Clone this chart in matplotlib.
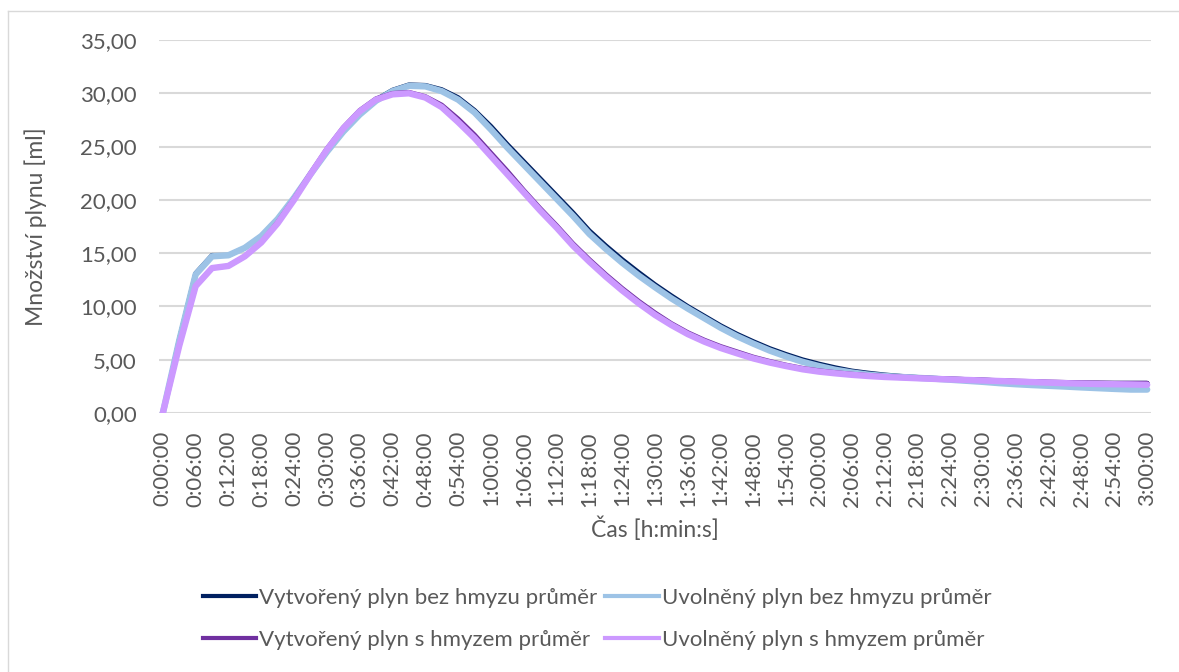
import matplotlib.pyplot as plt
from matplotlib.lines import Line2D

plt.rcParams['font.family'] = ['Lato', 'DejaVu Sans']

# time in minutes, every 3 minutes from 0:00:00 to 3:00:00
minutes = list(range(0, 181, 3))

vytvoreny_bez = [0, 6.9, 13.1, 14.8, 14.8, 15.5, 16.6, 18.2, 20.2, 22.4,
                 24.5, 26.4, 28.0, 29.4, 30.3, 30.8, 30.75, 30.35, 29.6, 28.4,
                 26.9, 25.2, 23.6, 22.0, 20.4, 18.8, 17.1, 15.7, 14.4, 13.2,
                 12.05, 11.0, 10.0, 9.1, 8.2, 7.4, 6.7, 6.05, 5.5, 5.0,
                 4.6, 4.25, 3.95, 3.75, 3.58, 3.45, 3.35, 3.27, 3.2, 3.15,
                 3.1, 3.03, 2.97, 2.92, 2.87, 2.83, 2.8, 2.8, 2.8, 2.8, 2.8]

uvolneny_bez = [0, 6.8, 13.0, 14.7, 14.8, 15.5, 16.6, 18.2, 20.2, 22.4,
                24.5, 26.4, 28.0, 29.3, 30.2, 30.7, 30.65, 30.2, 29.4, 28.2,
                26.6, 24.9, 23.3, 21.7, 20.1, 18.5, 16.8, 15.4, 14.1, 12.9,
                11.8, 10.75, 9.8, 8.9, 8.0, 7.2, 6.5, 5.85, 5.3, 4.8,
                4.4, 4.05, 3.8, 3.6, 3.47, 3.38, 3.3, 3.22, 3.12, 3.02,
                2.92, 2.8, 2.7, 2.62, 2.55, 2.48, 2.4, 2.33, 2.26, 2.2, 2.2]

vytvoreny_s = [0, 6.3, 11.9, 13.6, 13.8, 14.7, 16.0, 17.9, 20.1, 22.5,
               24.8, 26.8, 28.4, 29.5, 30.0, 30.1, 29.7, 28.9, 27.6, 26.1,
               24.4, 22.7, 20.9, 19.2, 17.6, 15.9, 14.4, 13.0, 11.7, 10.5,
               9.4, 8.4, 7.55, 6.85, 6.25, 5.75, 5.25, 4.85, 4.5, 4.2,
               3.97, 3.8, 3.65, 3.53, 3.43, 3.36, 3.3, 3.25, 3.2, 3.15,
               3.1, 3.05, 3.0, 2.96, 2.92, 2.88, 2.85, 2.83, 2.8, 2.8, 2.8]

uvolneny_s = [0, 6.3, 11.9, 13.6, 13.8, 14.7, 16.0, 17.8, 20.0, 22.4,
              24.7, 26.7, 28.3, 29.4, 29.9, 30.0, 29.6, 28.7, 27.3, 25.8,
              24.1, 22.4, 20.7, 19.0, 17.4, 15.7, 14.2, 12.8, 11.5, 10.3,
              9.2, 8.25, 7.4, 6.7, 6.1, 5.6, 5.12, 4.73, 4.4, 4.1,
              3.88, 3.72, 3.58, 3.47, 3.38, 3.32, 3.26, 3.2, 3.15, 3.1,
              3.05, 3.0, 2.95, 2.9, 2.85, 2.8, 2.76, 2.72, 2.7, 2.68, 2.65]

labels = ['Vytvořený plyn bez hmyzu průměr', 'Uvolněný plyn bez hmyzu průměr',
          'Vytvořený plyn s hmyzem průměr', 'Uvolněný plyn s hmyzem průměr']
colors = ['#002060', '#9DC3E6', '#7030A0', '#CC99FF']

tick_minutes = list(range(0, 181, 6))
tick_labels = ['%d:%02d:00' % (m // 60, m % 60) for m in tick_minutes]

fig = plt.figure(figsize=(11.79, 6.72), dpi=100)
ax = fig.add_axes([159 / 1179, 1 - 413 / 672, 992 / 1179, 373 / 672])

series = [vytvoreny_bez, uvolneny_bez, vytvoreny_s, uvolneny_s]
widths = [3.4, 4.6, 3.4, 4.6]
for vals, c, lw in zip(series, colors, widths):
    ax.plot(minutes, vals, color=c, lw=lw, solid_capstyle='round', solid_joinstyle='round')

ax.set_xlim(-0.7, 180.7)
ax.set_ylim(0, 35)
ax.set_yticks(range(0, 36, 5))
ax.set_yticklabels(['%d,00' % v for v in range(0, 36, 5)])
ax.set_xticks(tick_minutes)
ax.set_xticklabels(tick_labels, rotation=90)
ax.tick_params(length=0, labelsize=16, colors='#595959')
ax.tick_params(axis='x', pad=13)
ax.tick_params(axis='y', pad=16)
ax.grid(axis='y', color='#D9D9D9', lw=1.5)
ax.set_axisbelow(True)
for s in ax.spines.values():
    s.set_visible(False)

ax.set_xlabel('Čas [h:min:s]', fontsize=16.5, color='#595959', labelpad=7)
ax.set_ylabel('Množství plynu [ml]', fontsize=16.5, color='#595959', labelpad=24)

handles = [Line2D([], [], color=colors[i], lw=3) for i in (0, 2, 1, 3)]
leg_labels = [labels[i] for i in (0, 2, 1, 3)]
fig.legend(handles, leg_labels, ncol=2, loc='center', bbox_to_anchor=(597 / 1179, 1 - 619 / 672),
           frameon=False, fontsize=16, labelcolor='#595959', handlelength=2.4,
           handletextpad=0.15, columnspacing=0.35, labelspacing=1.0)

# chart area border
fig.add_artist(Line2D([8 / 1179, 8 / 1179], [0, 1 - 11 / 672], color='#D9D9D9', lw=1))
fig.add_artist(Line2D([8 / 1179, 1], [1 - 11 / 672, 1 - 11 / 672], color='#D9D9D9', lw=1))

fig.savefig('out.png', dpi=100)
